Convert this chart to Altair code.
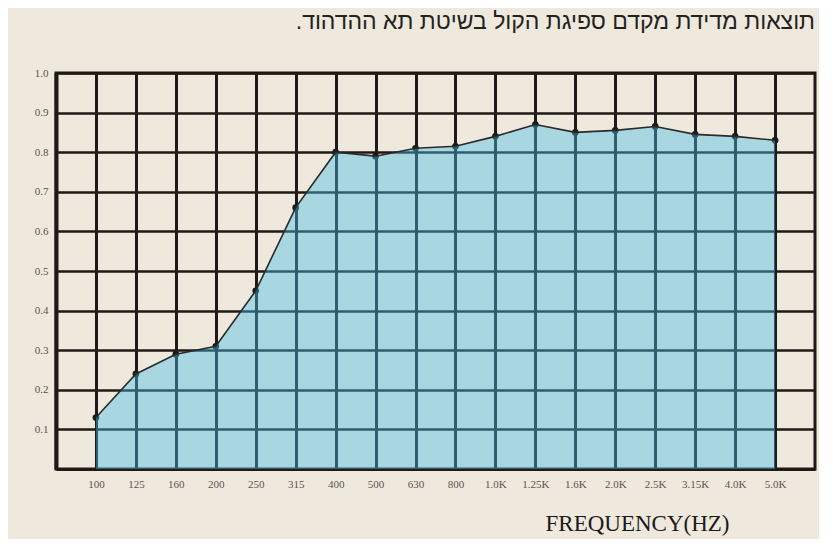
import altair as alt
import pandas as pd

freqs = ["100", "125", "160", "200", "250", "315", "400", "500", "630", "800",
         "1.0K", "1.25K", "1.6K", "2.0K", "2.5K", "3.15K", "4.0K", "5.0K"]
alpha = [0.13, 0.24, 0.29, 0.31, 0.45, 0.66, 0.80, 0.79, 0.81, 0.815,
         0.84, 0.87, 0.85, 0.855, 0.865, 0.845, 0.84, 0.83]
y_ticks = [0.1, 0.2, 0.3, 0.4, 0.5, 0.6, 0.7, 0.8, 0.9, 1.0]

# RLM after the period keeps it at the left end of the right-to-left sentence
title_text = "תוצאות מדידת מקדם ספיגת הקול בשיטת תא ההדהוד.\u200f"
x_title = "FREQUENCY(HZ)"

df = pd.DataFrame({"freq": freqs, "alpha": alpha})

INK = "#1f1a17"

x_enc = alt.X(
    "freq:N",
    sort=freqs,
    scale=alt.Scale(type="point", padding=1),
    axis=alt.Axis(
        title=x_title,
        labelAngle=0,
        ticks=False,
        grid=True,
        gridColor=INK,
        gridWidth=3,
        gridOpacity=1,
        domainColor=INK,
        domainWidth=3,
        labelFont="Liberation Serif",
        labelFontSize=11,
        labelColor="#5a5550",
        labelPadding=9,
        titleFont="Liberation Serif",
        titleFontSize=23,
        titleFontWeight="normal",
        titleColor="#1a1a1a",
        titleX=581,
        titleY=54,
        titleAlign="center",
        titleBaseline="middle",
    ),
)

y_enc = alt.Y(
    "alpha:Q",
    scale=alt.Scale(domain=[0, 1], nice=False),
    axis=alt.Axis(
        title=None,
        values=y_ticks,
        format=".1f",
        ticks=False,
        grid=True,
        gridColor=INK,
        gridWidth=2.5,
        gridOpacity=1,
        domainColor=INK,
        domainWidth=4,
        labelFont="Liberation Serif",
        labelFontSize=11,
        labelColor="#5a5550",
        labelPadding=8,
        labelBaseline="middle",
    ),
)

base = alt.Chart(df).encode(x=x_enc, y=y_enc)

points = base.mark_point(filled=True, size=45, color="#1a1a1a", opacity=1)
area = base.mark_area(color="#46bee8", opacity=0.42)
line = base.mark_line(color="#2a2a2a", strokeWidth=1.6)

chart = (
    alt.layer(points, area, line)
    .properties(
        width=759,
        height=396,
        autosize=alt.AutoSizeParams(type="none"),
        padding={"left": 48, "top": 65, "right": 4, "bottom": 70},
        title=alt.TitleParams(
            text=title_text,
            anchor="end",
            font="Liberation Sans",
            fontSize=23,
            fontWeight="normal",
            color="#222222",
            offset=33,
        ),
        background="#efe8dc",
    )
    .configure_view(stroke=INK, strokeWidth=3)
)

chart.save("out.html", embed_options={"renderer": "svg", "actions": False})
